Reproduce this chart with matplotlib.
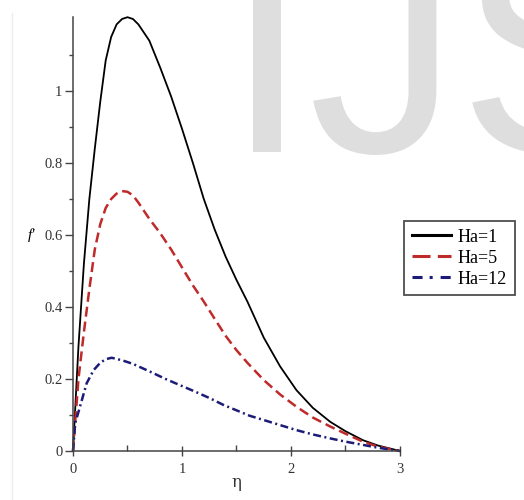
import numpy as np
import matplotlib.pyplot as plt
from matplotlib.lines import Line2D
from matplotlib.path import Path
from matplotlib.textpath import TextPath
from matplotlib.patches import PathPatch
from matplotlib.font_manager import FontProperties
from matplotlib.transforms import Affine2D

# velocity profiles f'(eta) for three Hartmann numbers
eta_ha1 = [0, 0.05, 0.1, 0.15, 0.2, 0.25, 0.3, 0.35, 0.4, 0.45, 0.5, 0.55, 0.6, 0.7, 0.8,
           0.9, 1.0, 1.1, 1.2, 1.3, 1.4, 1.5, 1.6, 1.75, 1.9, 2.05, 2.2, 2.36, 2.5, 2.66, 2.8, 3.0]
f_ha1 = [0, 0.29, 0.52, 0.70, 0.84, 0.97, 1.085, 1.15, 1.185, 1.20, 1.205, 1.20, 1.185, 1.14, 1.065,
         0.985, 0.895, 0.80, 0.70, 0.615, 0.54, 0.475, 0.415, 0.315, 0.235, 0.169, 0.12, 0.081, 0.055, 0.03, 0.015, 0]

eta_ha5 = [0, 0.05, 0.1, 0.15, 0.2, 0.25, 0.3, 0.35, 0.4, 0.45, 0.5, 0.55, 0.6, 0.7, 0.8, 0.9,
           1.0, 1.1, 1.2, 1.3, 1.4, 1.5, 1.6, 1.75, 1.9, 2.05, 2.2, 2.36, 2.5, 2.66, 2.8, 3.0]
f_ha5 = [0, 0.20, 0.33, 0.45, 0.56, 0.63, 0.675, 0.70, 0.715, 0.722, 0.72, 0.71, 0.69, 0.645, 0.605, 0.56,
         0.51, 0.46, 0.415, 0.367, 0.32, 0.28, 0.245, 0.197, 0.157, 0.123, 0.093, 0.068, 0.048, 0.026, 0.012, 0]

eta_ha12 = [0, 0.02, 0.064, 0.125, 0.19, 0.25, 0.3, 0.355, 0.45, 0.55, 0.71, 0.85, 0.98, 1.12, 1.26,
            1.38, 1.5, 1.62, 1.75, 1.9, 2.05, 2.2, 2.36, 2.5, 2.66, 2.8, 3.0]
f_ha12 = [0, 0.077, 0.123, 0.188, 0.225, 0.245, 0.255, 0.259, 0.252, 0.242, 0.22, 0.20, 0.183, 0.165, 0.146,
          0.128, 0.113, 0.098, 0.086, 0.072, 0.058, 0.046, 0.035, 0.026, 0.017, 0.009, 0]

labels = ['Ha=1', 'Ha=5', 'Ha=12']
xticks = [0, 1, 2, 3]
yticks = [0, 0.2, 0.4, 0.6, 0.8, 1]
ytick_labels = ['0', '0.2', '0.4', '0.6', '0.8', '1']

serif = 'Liberation Serif'
W, H = 524, 500
c_black, c_red, c_blue = 'black', '#bf2a2a', '#1c1c78'

fig = plt.figure(figsize=(W / 100, H / 100), dpi=100)
fig.patch.set_facecolor('white')

# faint watermark behind the plot, placed in pixel units
wm = TextPath((0, 0), 'IJS', size=300, prop=FontProperties(family='Liberation Sans'))
real = wm.codes != Path.CLOSEPOLY
wm_x0 = wm.vertices[real, 0].min()
fig.add_artist(PathPatch(wm, transform=Affine2D().translate(253 - wm_x0, H - 152),
                         facecolor='#dedede', edgecolor='none', zorder=-5))
fig.add_artist(Line2D([12 / W, 12 / W], [0, 1 - 13 / H], color='#ececec', lw=1))

ax = fig.add_axes([73 / W, 49 / H, 327 / W, 433.8 / H])
ax.set_facecolor('none')

ax.plot(eta_ha1, f_ha1, color=c_black, lw=1.3, clip_on=False)
ax.plot(eta_ha5, f_ha5, color=c_red, lw=1.8, dashes=(4, 2), clip_on=False)
ax.plot(eta_ha12, f_ha12, color=c_blue, lw=1.8, dashes=(3.2, 1.4, 0.8, 1.4), clip_on=False)

ax.set_xlim(0, 3)
ax.set_ylim(0, 1.205)
for s in ['top', 'right']:
    ax.spines[s].set_visible(False)
for s in ['left', 'bottom']:
    ax.spines[s].set_color('#444444')
    ax.spines[s].set_linewidth(1.1)

ax.set_xticks(xticks)
ax.set_xticklabels([str(t) for t in xticks])
ax.set_xticks([0.5, 1.5, 2.5], minor=True)
ax.set_yticks(yticks)
ax.set_yticklabels(ytick_labels)
ax.set_yticks([0.1, 0.3, 0.5, 0.7, 0.9, 1.1], minor=True)

ax.tick_params(axis='x', which='major', direction='inout', length=7, width=1,
               color='#444444', pad=5)
ax.tick_params(axis='x', which='minor', direction='in', length=4, width=1, color='#444444')
ax.tick_params(axis='y', which='major', direction='out', length=6, width=1,
               color='#444444', pad=1.5)
ax.tick_params(axis='y', which='minor', direction='out', length=3, width=1, color='#444444')
for lab in ax.get_xticklabels() + ax.get_yticklabels():
    lab.set_fontfamily(serif)
    lab.set_fontsize(10.5)
    lab.set_color('#333333')

ax.set_ylabel("f'", rotation=0, fontsize=11, family=serif, style='italic',
              va='center', ha='center')
ax.yaxis.set_label_coords(-0.128, 0.498)
ax.set_xlabel('η', fontsize=12, family='DejaVu Serif', color='#333333', va='center')
ax.xaxis.set_label_coords(0.5, -0.072)

# legend keys with their own dash patterns
handles = [
    Line2D([], [], color=c_black, lw=2.2),
    Line2D([], [], color=c_red, lw=2.2, dashes=(5.9, 2.4)),
    Line2D([], [], color=c_blue, lw=2.2, dashes=(3.3, 2.3, 1.0, 2.6)),
]
leg = ax.legend(handles, labels, loc='upper left', bbox_to_anchor=(404 / W, 1 - 221 / H),
                bbox_transform=fig.transFigure, borderaxespad=0, frameon=True,
                fancybox=False, prop={'family': serif, 'size': 13},
                handlelength=2.2, handletextpad=0.37, borderpad=0.42,
                labelspacing=0.22)
leg.get_frame().set_edgecolor('#222222')
leg.get_frame().set_linewidth(1.3)

fig.savefig('out.png', dpi=100)
